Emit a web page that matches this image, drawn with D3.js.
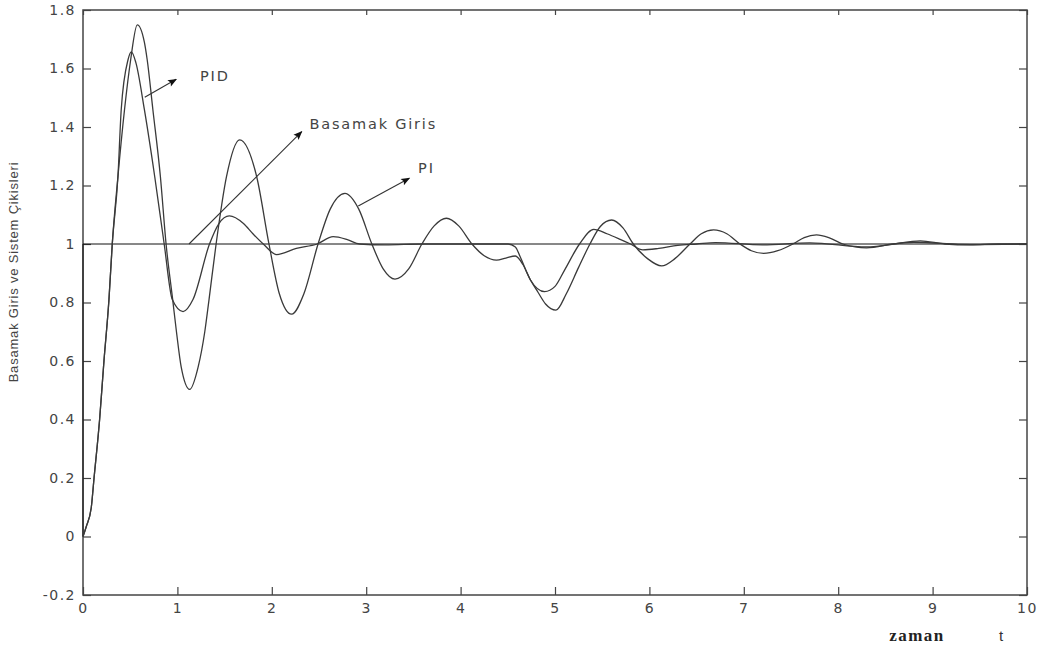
<!DOCTYPE html>
<html lang="tr">
<head>
<meta charset="UTF-8">
<title>Basamak Giris ve Sistem Çikisleri</title>
<script src="https://d3js.org/d3.v7.min.js"></script>
<style>
  body { margin: 0; background: #fff; }
  svg { display: block; }
</style>
</head>
<body>
<svg width="1043" height="651"></svg>
<script>
// zaman ekseni ve cevaplar
var xTicks = [0, 1, 2, 3, 4, 5, 6, 7, 8, 9, 10];
var yTicks = [-0.2, 0, 0.2, 0.4, 0.6, 0.8, 1, 1.2, 1.4, 1.6, 1.8];

var stepTime = [0, 0, 10];
var stepValues = [0, 1, 1];

var piTime = [0, 0.035, 0.088, 0.117, 0.176, 0.222, 0.275, 0.31, 0.37, 0.44, 0.505, 0.575, 0.65, 0.68, 0.74, 0.82, 0.88,
    0.95, 0.99, 1.04, 1.13, 1.22, 1.29, 1.335, 1.41, 1.52, 1.66, 1.84, 1.97, 2.08, 2.21, 2.34, 2.49, 2.62, 2.775,
    2.92, 3.06, 3.18, 3.305, 3.45, 3.59, 3.72, 3.85, 3.98, 4.12, 4.25, 4.38, 4.48, 4.58, 4.66, 4.74, 4.82, 4.9,
    5.01, 5.12, 5.25, 5.37, 5.48, 5.6, 5.72, 5.83, 5.98, 6.13, 6.27, 6.43, 6.55, 6.68, 6.82, 6.96, 7.08, 7.21,
    7.36, 7.52, 7.64, 7.77, 7.9, 8.05, 8.18, 8.3, 8.58, 8.87, 9.13, 9.4, 9.7, 10];
var piValues = [0, 0.034, 0.10, 0.2, 0.4, 0.6, 0.81, 1.0, 1.23, 1.46, 1.63, 1.749, 1.69, 1.63, 1.46, 1.23, 1.0,
    0.81, 0.70, 0.58, 0.503, 0.58, 0.70, 0.81, 1.0, 1.23, 1.356, 1.23, 1.0, 0.83, 0.76, 0.83, 1.0, 1.12, 1.173,
    1.12, 1.0, 0.915, 0.88, 0.915, 1.0, 1.062, 1.088, 1.062, 1.0, 0.96, 0.945, 0.952, 0.959, 0.93, 0.877, 0.835, 0.795,
    0.774, 0.83, 0.92, 1.0, 1.06, 1.082, 1.055, 1.0, 0.95, 0.925, 0.95, 1.0, 1.035, 1.048, 1.035, 1.0, 0.977, 0.968,
    0.977, 1.0, 1.022, 1.031, 1.022, 1.0, 0.99, 0.987, 1.0, 1.011, 1.0, 0.997, 1.0, 1.0];

var pidTime = [0, 0.035, 0.088, 0.117, 0.176, 0.222, 0.275, 0.31, 0.37, 0.405, 0.477, 0.512, 0.56, 0.65, 0.76, 0.86,
    0.946, 1.06, 1.165, 1.34, 1.44, 1.55, 1.7, 1.8, 1.91, 2.05, 2.26, 2.48, 2.65, 2.8, 2.93, 3.2, 3.6, 4.0, 4.5,
    4.58, 4.63, 4.74, 4.89, 5.0, 5.1, 5.26, 5.41, 5.55, 5.69, 5.8, 5.93, 6.1, 6.3, 6.5, 6.7, 7.2, 7.7, 8.3, 8.8,
    9.4, 10];
var pidValues = [0, 0.034, 0.10, 0.2, 0.4, 0.6, 0.81, 1.0, 1.23, 1.46, 1.63, 1.657, 1.62, 1.46, 1.23, 1.0,
    0.81, 0.769, 0.81, 1.0, 1.07, 1.096, 1.07, 1.035, 1.0, 0.964, 0.985, 1.0, 1.025, 1.015, 1.0, 0.997, 1.0, 1.0, 1.0,
    0.99, 0.957, 0.877, 0.837, 0.855, 0.91, 1.0, 1.05, 1.035, 1.016, 1.0, 0.98, 0.985, 0.995, 1.0, 1.005, 0.997, 1.004, 0.99, 1.006,
    0.998, 1.0];

// etiketler: ok baslangici, ok ucu, yazi konumu (veri biriminde)
var notes = [
    {text: 'PID', from: [0.654, 1.502], to: [0.987, 1.563], at: [1.24, 1.574]},
    {text: 'Basamak Giris', from: [1.123, 1.0], to: [2.317, 1.384], at: [2.40, 1.41]},
    {text: 'PI', from: [2.916, 1.13], to: [3.457, 1.225], at: [3.55, 1.26]}
];

var svg = d3.select('svg');
var margin = {top: 10, right: 16, bottom: 56, left: 83};
var width = 1043 - margin.left - margin.right;
var height = 651 - margin.top - margin.bottom;

var x = d3.scaleLinear().domain([0, 10]).range([0, width]);
var y = d3.scaleLinear().domain([-0.2, 1.8]).range([height, 0]);

var g = svg.append('g').attr('transform', 'translate(' + margin.left + ',' + margin.top + ')');

svg.append('defs').append('marker')
    .attr('id', 'head')
    .attr('viewBox', '0 0 10 10')
    .attr('refX', 9).attr('refY', 5)
    .attr('markerWidth', 12).attr('markerHeight', 9)
    .attr('markerUnits', 'userSpaceOnUse')
    .attr('orient', 'auto')
    .append('path').attr('d', 'M0,1 L10,5 L0,9 L2,5 Z').attr('fill', '#111');

var fmt = function (d) { return String(+d.toFixed(1)); };

function styleAxis(sel) {
    sel.select('.domain').remove();
    sel.selectAll('line').attr('stroke', '#444').attr('stroke-width', 1.2);
    sel.selectAll('text')
        .attr('fill', '#444')
        .style('font-family', '"DejaVu Sans", sans-serif')
        .style('font-size', '14px')
        .style('letter-spacing', '1.5px');
}

g.append('g')
    .attr('transform', 'translate(0,' + height + ')')
    .call(d3.axisBottom(x).tickValues(xTicks).tickFormat(fmt).tickSizeInner(-8).tickSizeOuter(0).tickPadding(8))
    .call(styleAxis);
g.append('g')
    .call(d3.axisTop(x).tickValues(xTicks).tickFormat('').tickSizeInner(-5).tickSizeOuter(0))
    .call(styleAxis);
g.append('g')
    .call(d3.axisLeft(y).tickValues(yTicks).tickFormat(fmt).tickSizeInner(-8).tickSizeOuter(0).tickPadding(7))
    .call(styleAxis);
g.append('g')
    .attr('transform', 'translate(' + width + ',0)')
    .call(d3.axisRight(y).tickValues(yTicks).tickFormat('').tickSizeInner(-8).tickSizeOuter(0))
    .call(styleAxis);

g.append('rect')
    .attr('width', width).attr('height', height)
    .attr('fill', 'none').attr('stroke', '#444').attr('stroke-width', 1.5);

function series(times, values, color, w, curve) {
    var line = d3.line()
        .x(function (d) { return x(d[0]); })
        .y(function (d) { return y(d[1]); })
        .curve(curve);
    g.append('path')
        .datum(d3.zip(times, values))
        .attr('d', line)
        .attr('fill', 'none')
        .attr('stroke', color)
        .attr('stroke-width', w);
}

series(stepTime, stepValues, '#111', 1, d3.curveLinear);
series(piTime, piValues, '#3a3a3a', 1.3, d3.curveMonotoneX);
series(pidTime, pidValues, '#3a3a3a', 1.3, d3.curveMonotoneX);

notes.forEach(function (n) {
    g.append('line')
        .attr('x1', x(n.from[0])).attr('y1', y(n.from[1]))
        .attr('x2', x(n.to[0])).attr('y2', y(n.to[1]))
        .attr('stroke', '#333').attr('stroke-width', 1.1)
        .attr('marker-end', 'url(#head)');
    g.append('text')
        .attr('x', x(n.at[0])).attr('y', y(n.at[1]))
        .attr('dy', '0.35em')
        .attr('fill', '#444')
        .style('font-family', '"DejaVu Sans", sans-serif')
        .style('font-size', '14.5px')
        .style('letter-spacing', '1.8px')
        .text(n.text);
});

svg.append('text')
    .attr('transform', 'translate(18,272) rotate(-90)')
    .attr('text-anchor', 'middle')
    .attr('fill', '#444')
    .style('font-family', 'Arial, "Liberation Sans", sans-serif')
    .style('font-size', '13px')
    .style('letter-spacing', '0.8px')
    .text('Basamak Giris ve Sistem Çikisleri');

svg.append('text')
    .attr('x', 917).attr('y', 641)
    .attr('text-anchor', 'middle')
    .attr('fill', '#222')
    .style('font-family', '"Liberation Serif", "Times New Roman", serif')
    .style('font-weight', 'bold')
    .style('font-size', '17px')
    .style('letter-spacing', '1.5px')
    .text('zaman');

svg.append('text')
    .attr('x', 1001).attr('y', 641)
    .attr('text-anchor', 'middle')
    .attr('fill', '#333')
    .style('font-family', 'Arial, "Liberation Sans", sans-serif')
    .style('font-size', '15px')
    .text('t');
</script>
</body>
</html>
